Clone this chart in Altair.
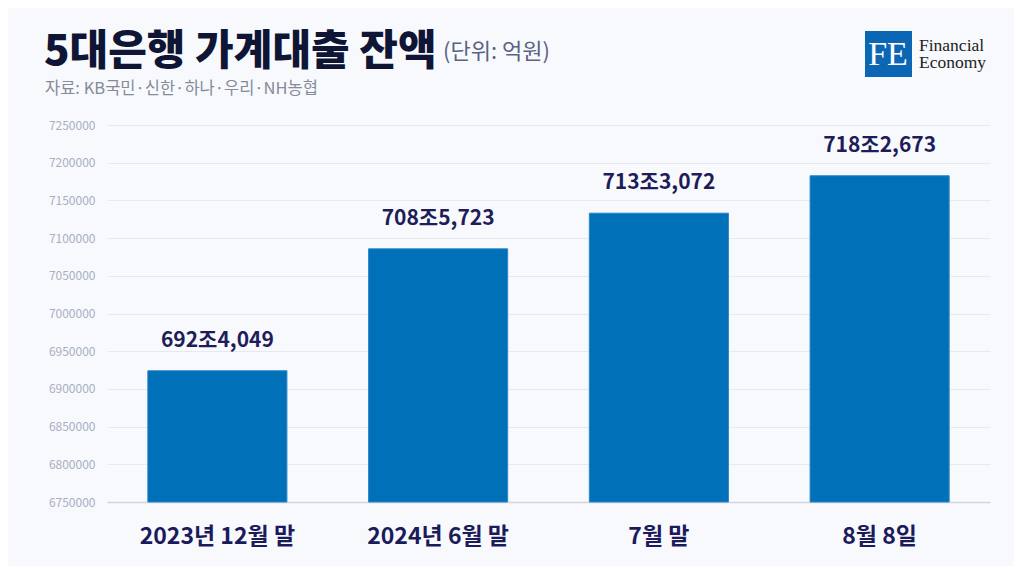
import altair as alt
import pandas as pd

categories = ["2023년 12월 말", "2024년 6월 말", "7월 말", "8월 8일"]
values = [6924049, 7085723, 7133072, 7182673]
labels = [f"{v // 10000}조{v % 10000:,}" for v in values]
y_ticks = list(range(6750000, 7250001, 50000))
y_min, y_max = 6750000, 7250000

df = pd.DataFrame({"cat": categories, "val": values, "label": labels})

FONT = "Noto Sans CJK KR"
W, H = 883, 377

x = alt.X("cat:N", sort=categories, title=None,
          scale=alt.Scale(paddingInner=0.37, paddingOuter=0.185),
          axis=alt.Axis(labelAngle=0, labelFont=FONT, labelFontSize=23, labelFontWeight="bold",
                        labelColor="#1b1b5c", labelPadding=23, ticks=False,
                        domainColor="#d3d5dc", domainWidth=1.5))
y = alt.Y("val:Q", title=None,
          scale=alt.Scale(domain=[y_min, y_max], zero=False, nice=False),
          axis=alt.Axis(values=y_ticks, format="d", labelFont=FONT, labelFontSize=12,
                        labelColor="#a7afc3", labelPadding=12, ticks=False, domain=False,
                        gridColor="#e7e9f0", gridWidth=1))

base = alt.Chart(df)
bars = base.mark_bar(color="#0070b8", stroke="#2a86c8", strokeWidth=1).encode(
    x=x, y=y, y2=alt.datum(y_min))
text = base.mark_text(font=FONT, fontSize=21, fontWeight="bold", color="#1e1d5a",
                      baseline="alphabetic", dy=-24).encode(x=x, y=y, text="label:N")

one = pd.DataFrame({"k": [0]})
def deco(txt, px, py, **kw):
    return alt.Chart(one).mark_text(text=txt, align="left", baseline="alphabetic", **kw).encode(
        x=alt.value(px), y=alt.value(py))

title = deco("5대은행 가계대출 잔액", -63, -60, font=FONT, fontSize=42, fontWeight=900, color="#0e1535")
unit = deco("(단위: 억원)", 336, -66, font=FONT, fontSize=22, color="#5a6383")
sub = deco("자료: KB국민·신한·하나·우리·NH농협", -62, -31, font=FONT, fontSize=16.5, color="#858b99")

logo_sq = alt.Chart(one).mark_rect(color="#0b66b3").encode(
    x=alt.value(758), x2=alt.value(805), y=alt.value(-94), y2=alt.value(-48))
logo_fe = alt.Chart(one).mark_text(text="FE", font="Liberation Serif", fontSize=34, color="white",
                                   align="center", baseline="middle").encode(
    x=alt.value(781), y=alt.value(-70))
logo_t1 = deco("Financial", 812, -74, font="Liberation Serif", fontSize=17.5, color="#222222")
logo_t2 = deco("Economy", 812, -57, font="Liberation Serif", fontSize=17.5, color="#222222")

chart = alt.layer(bars, text, title, unit, sub, logo_sq, logo_fe, logo_t1, logo_t2).properties(
    width=W, height=H, background="#f8f9fd",
    autosize=alt.AutoSizeParams(type="none"),
    padding={"left": 99, "top": 117, "right": 24, "bottom": 64},
).configure_view(stroke=None)

chart.save("out.html", embed_options={"renderer": "svg", "actions": False})
